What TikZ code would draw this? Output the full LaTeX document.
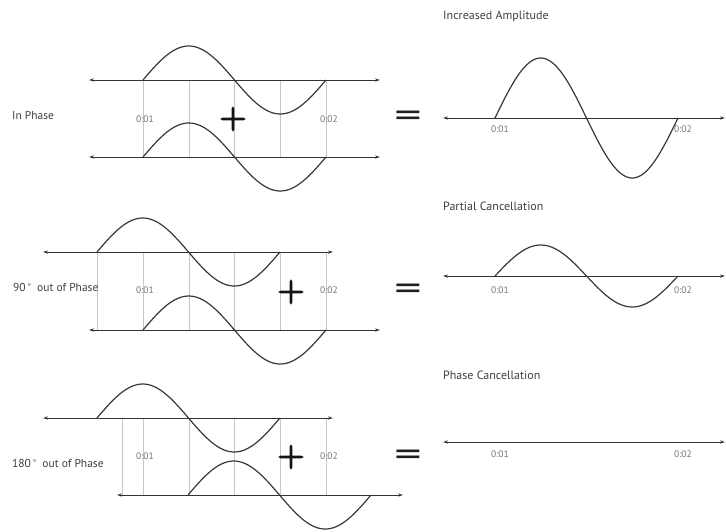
\documentclass[tikz,border=0pt]{standalone}
\usepackage{fontspec}
\setmainfont{PT Sans}
\newfontfamily\lmfont[FakeBold=4]{Latin Modern Roman}
\usetikzlibrary{arrows.meta}
\newcommand{\sinewave}[3]{\draw[wave] plot[domain=0:360,samples=91,smooth] ({#1+\x/360*183},{#2-#3*sin(\x)});}
\begin{document}
\begin{tikzpicture}[x=1pt,y=-1pt,
  axis/.style={draw=black!80, line width=0.9pt, {Stealth[length=5pt,width=3.2pt]}-{Stealth[length=5pt,width=3.2pt]}},
  wave/.style={draw=black!78, line width=1.2pt},
  guide/.style={draw=black!22, line width=0.5pt},
  tick/.style={font=\fontsize{9.5}{10}\selectfont, text=black!55, inner sep=0pt},
  title/.style={font=\fontsize{12}{14}\selectfont, text=black!75, anchor=west, inner sep=0pt},
  side/.style={font=\fontsize{11.5}{13}\selectfont, text=black!75, anchor=west, inner sep=0pt},
  plussign/.style={font=\lmfont\fontsize{36}{36}\selectfont, text=black!92, inner sep=0pt},
  eqsign/.style={font=\fontsize{36}{36}\selectfont, text=black!88, inner sep=0pt, xscale=1.5}
]
\useasboundingbox (0,0) rectangle (726,531);

% ---------- Panel 1: In Phase ----------
\foreach \gx in {143,188.75,234.5,280.25,326} \draw[guide] (\gx,80) -- (\gx,157);
\draw[axis] (89,80) -- (380,80);
\draw[axis] (89,157) -- (380,157);
\sinewave{143}{80}{34}
\sinewave{143}{157}{34}
\node[tick] (a1) at (145,119) {0:01};
\node[tick] (a2) at (329,119) {0:02};
\node[plussign] (p1) at (233,119) {+};
\node[eqsign] (e1) at (408,119.5) {=};
\node[side] (s1) at (12,115) {In Phase};

% ---------- Panel 2: 90 out of Phase ----------
\foreach \gx in {97,143,188.75,234.5,280.25,326} \draw[guide] (\gx,252) -- (\gx,330);
\draw[axis] (43,252) -- (333,252);
\draw[axis] (89,330) -- (380,330);
\sinewave{97}{252}{34}
\sinewave{143}{330}{34}
\node[tick] (b1) at (145,290) {0:01};
\node[tick] (b2) at (329,290) {0:02};
\node[plussign] (p2) at (291,292) {+};
\node[eqsign] (e2) at (408,292) {=};
\node[side] (s2) at (13,287) {90\,\raisebox{1.5pt}{\fontsize{8}{8}\selectfont°}\ \ out of Phase};

% ---------- Panel 3: 180 out of Phase ----------
\foreach \gx in {122,143,188.75,234.5,280.25,326} \draw[guide] (\gx,418) -- (\gx,495);
\draw[axis] (43,418) -- (333,418);
\draw[axis] (117,495) -- (403,495);
\sinewave{97}{418}{34}
\sinewave{188}{495}{34}
\node[tick] (c1) at (145,456) {0:01};
\node[tick] (c2) at (329,456) {0:02};
\node[plussign] (p3) at (291,457) {+};
\node[eqsign] (e3) at (408,458) {=};
\node[side] (s3) at (12,463) {180\,\raisebox{1.5pt}{\fontsize{8}{8}\selectfont°}\ \ out of Phase};

% ---------- Results ----------
\node[title] (t1) at (443,16) {Increased Amplitude};
\draw[axis] (443,118) -- (725,118);
\sinewave{495}{118}{60}
\node[tick] (r1) at (500,129) {0:01};
\node[tick] (r2) at (683,129) {0:02};

\node[title] (t2) at (443,206) {Partial Cancellation};
\draw[axis] (443,276) -- (725,276);
\sinewave{495}{276}{31}
\node[tick] (q1) at (500,290) {0:01};
\node[tick] (q2) at (683,290) {0:02};

\node[title] (t3) at (443,375) {Phase Cancellation};
\draw[axis] (443,442) -- (725,442);
\node[tick] (z1) at (500,454) {0:01};
\node[tick] (z2) at (683,454) {0:02};
\end{tikzpicture}
\end{document}
